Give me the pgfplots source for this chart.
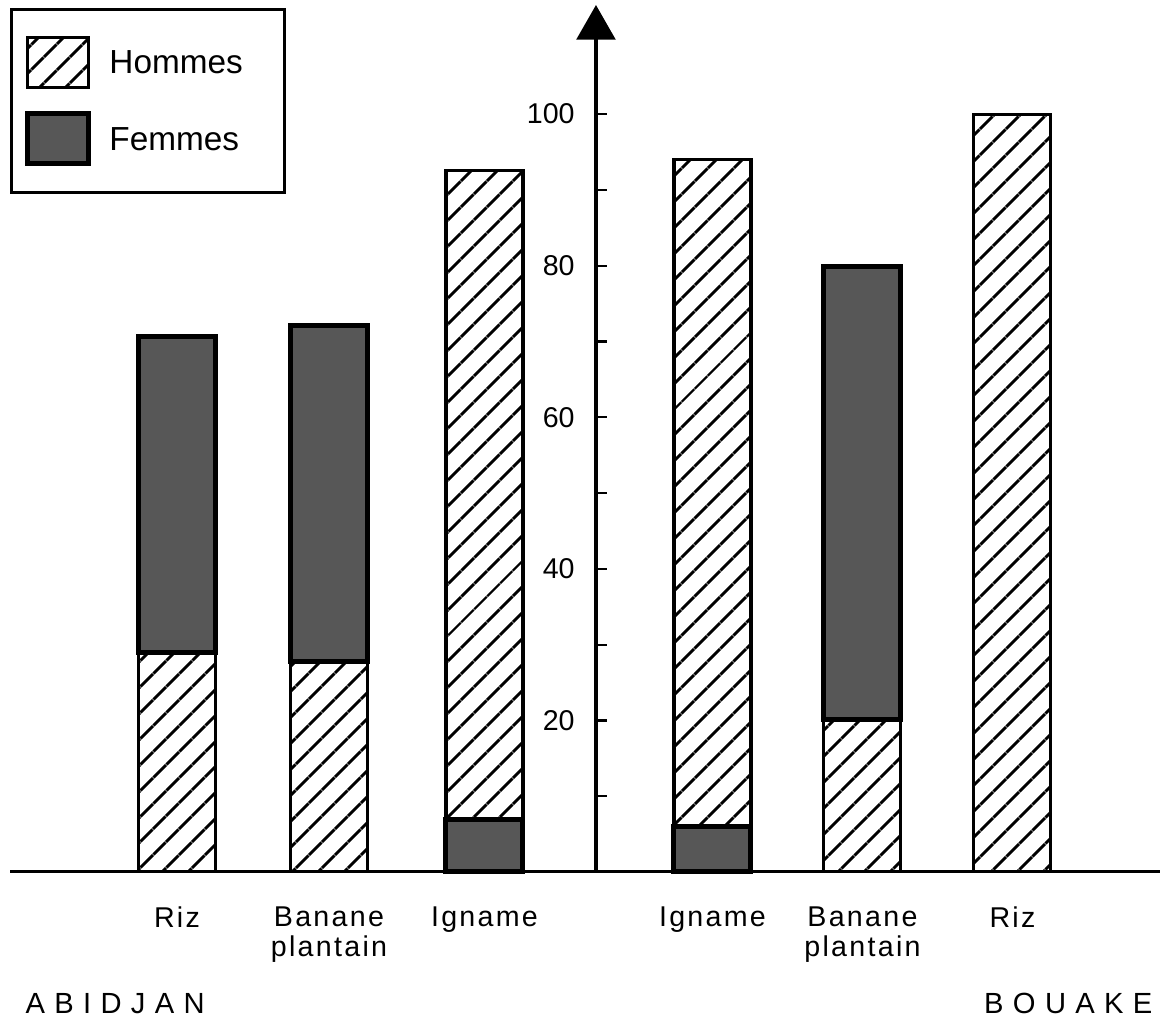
\documentclass[border=0pt]{standalone}
\usepackage{fontspec}
\setmainfont{Liberation Sans}
\newfontfamily\catfont[LetterSpace=8]{Liberation Sans}
\newfontfamily\cityfont[LetterSpace=32]{Liberation Sans}
\usepackage{pgfplots}
\pgfplotsset{compat=1.18}
\usetikzlibrary{patterns.meta,arrows.meta}

\tikzset{
 hommes/.style={draw=black, line width=1.1pt, pattern={Lines[angle=45,distance=6.5pt,line width=1.1pt]}},
 femmes/.style={draw=black, line width=1.8pt, fill=black!66},
}

\begin{document}
\begin{tikzpicture}
\begin{axis}[
 name=ax,
 scale only axis, width=414pt, height=312.12pt,
 xmin=-5.86, xmax=5.64, ymin=0, ymax=114.4,
 axis lines=center,
 axis line style={line width=1.1pt},
 x axis line style={-},
 y axis line style={-{Triangle[width=14pt,length=12.5pt]}},
 ybar stacked, bar width=0.77,
 xtick={-4.19,-2.67,-1.115,1.165,2.665,4.165},
 xticklabels={Riz,{Banane\\plantain},Igname,Igname,{Banane\\plantain},Riz},
 xticklabel style={align=center, anchor=north, inner sep=0pt, yshift=-10.5pt, font=\catfont\fontsize{10.3}{10.5}\selectfont},
 major x tick style={draw=none},
 ytick={10,20,...,100},
 yticklabels={,20,,40,,60,,80,,100},
 ytick style={line width=0.8pt, black},
 major tick length=4pt,
 ytick align=inside,
 yticklabel style={anchor=east, inner sep=0pt, xshift=-7.5pt, font=\fontsize{10.3}{12}\selectfont},
 clip=false,
 legend cell align=left,
 legend style={at={(0,1)}, anchor=north west, yshift=-1.1pt, draw=black, line width=1pt,
   inner xsep=5pt, inner ysep=9.5pt, row sep=8pt, column sep=6.5pt, fill=white,
   nodes={inner sep=0pt, text depth=0pt, font=\fontsize{12}{14}\selectfont},
   cells={anchor=west}},
]
\addplot[hommes, legend image code/.code={\draw[hommes] (0pt,-9pt) rectangle (22pt,9pt);}]
 coordinates {(-4.19,28.9) (-2.67,27.8) (-1.115,0) (1.165,0) (2.665,20.1) (4.165,0)};
\addplot[femmes, legend image code/.code={\draw[femmes] (0pt,-9pt) rectangle (22pt,9pt);}]
 coordinates {(-4.19,41.7) (-2.67,44.3) (-1.115,6.9) (1.165,6.0) (2.665,59.8) (4.165,0)};
\addplot[hommes]
 coordinates {(-4.19,0) (-2.67,0) (-1.115,85.6) (1.165,88.0) (2.665,0) (4.165,100)};
\legend{\makebox[58pt][l]{Hommes},\makebox[58pt][l]{Femmes}}
\node[anchor=north west, inner sep=0pt, font=\cityfont\fontsize{10.5}{12}\selectfont]
 at ([xshift=5.4pt,yshift=-43.6pt]rel axis cs:0,0) {ABIDJAN};
\node[anchor=north east, inner sep=0pt, font=\cityfont\fontsize{10.5}{12}\selectfont]
 at ([xshift=-2.5pt,yshift=-43.6pt]rel axis cs:1,0) {BOUAKE};
\end{axis}
\pgfresetboundingbox
\useasboundingbox ([shift={(-3.6pt,-53.64pt)}]ax.south west) rectangle ([shift={(2.9pt,1.8pt)}]ax.north east);
\end{tikzpicture}
\end{document}
